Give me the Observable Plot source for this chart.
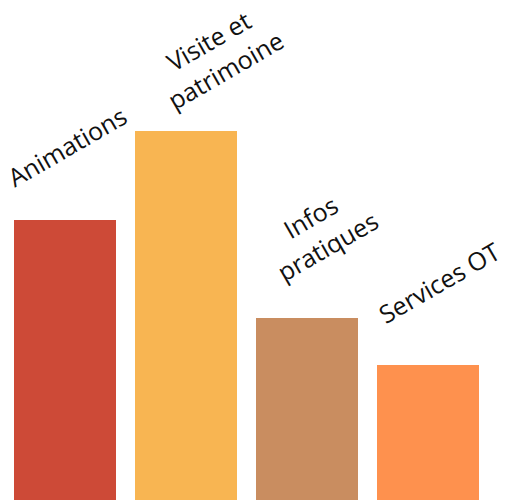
<!DOCTYPE html>
<html>
<head>
<meta charset="utf-8">
<script src="https://cdn.jsdelivr.net/npm/d3@7"></script>
<script src="https://cdn.jsdelivr.net/npm/@observablehq/plot@0.6"></script>
<style>
  html, body { margin: 0; padding: 0; background: #fff; }
  #chart svg { display: block; }
</style>
</head>
<body>
<div id="chart"></div>
<script>
const categories = ["Animations", "Visite et patrimoine", "Infos pratiques", "Services OT"];
const labels = ["Animations", "Visite et\npatrimoine", "Infos\npratiques", "Services OT"];
const values = [28, 36.9, 18.2, 13.5];
const colors = ["#cd4a37", "#f8b552", "#c98d60", "#fe914e"];

const data = categories.map((c, i) => ({category: c, label: labels[i], value: values[i]}));

// label placement offsets (layout, not data)
const labelOffsets = [[1, -75], [30, -77], [11, -88], [10, -84]];

const textMarks = data.map((d, i) => Plot.text([d], {
  x: "category",
  y: "value",
  text: "label",
  rotate: -30,
  textAnchor: "middle",
  lineAnchor: "middle",
  lineHeight: 1.35,
  fontSize: 25,
  fill: "#111",
  dx: labelOffsets[i][0],
  dy: labelOffsets[i][1]
}));

const chart = Plot.plot({
  width: 505,
  height: 500,
  marginLeft: 13,
  marginRight: 26,
  marginTop: 0,
  marginBottom: 0,
  style: {fontFamily: "'Open Sans', sans-serif", background: "#fff", overflow: "visible"},
  x: {domain: categories, paddingInner: 0.159, paddingOuter: 0, axis: null},
  y: {domain: [0, 50], axis: null},
  color: {domain: categories, range: colors},
  marks: [
    Plot.barY(data, {x: "category", y: "value", fill: "category"}),
    ...textMarks
  ]
});
document.getElementById("chart").appendChild(chart);
</script>
</body>
</html>
